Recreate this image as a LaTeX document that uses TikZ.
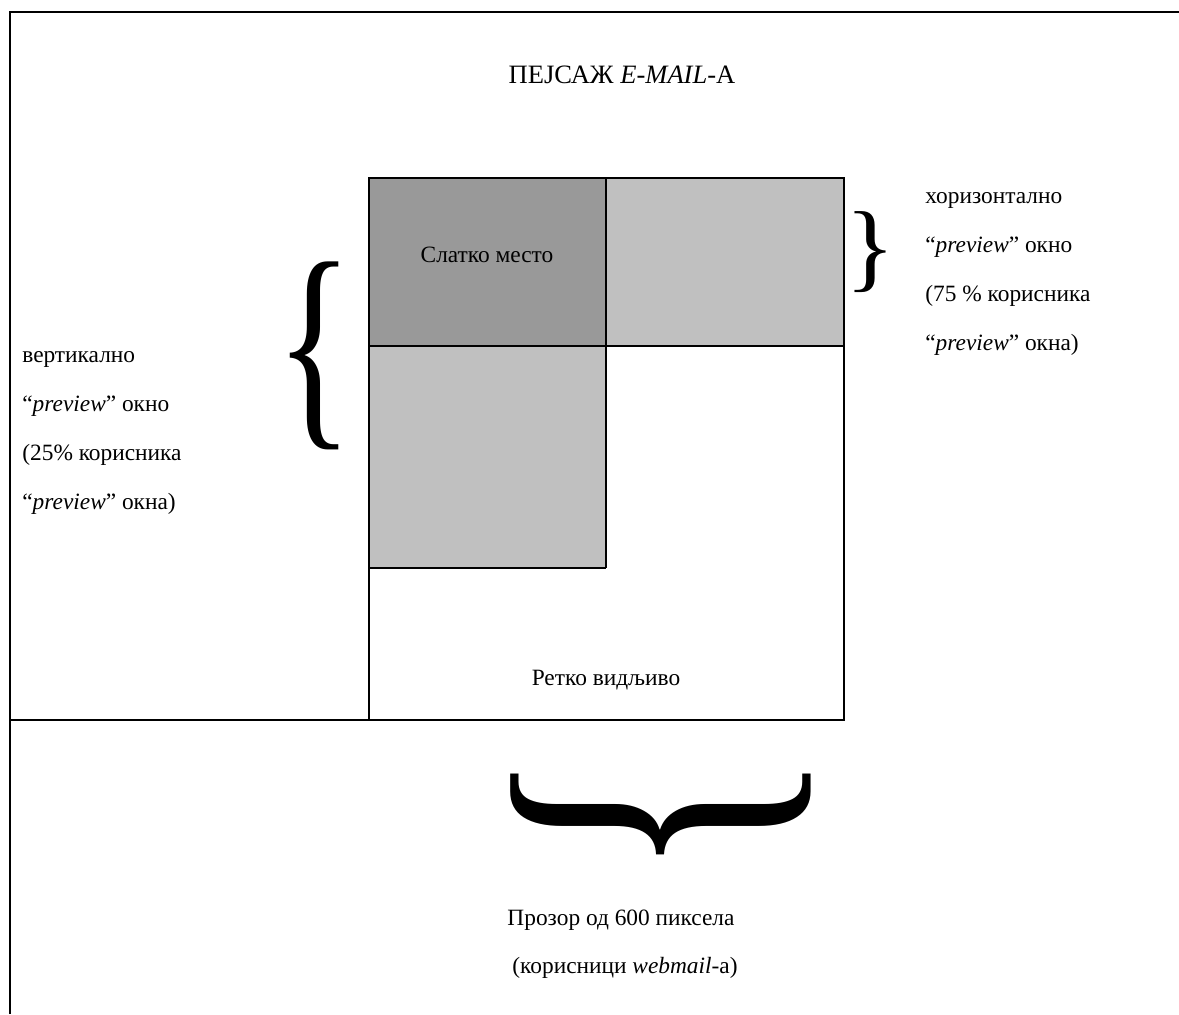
\documentclass[tikz,border=0pt]{standalone}
\usepackage{fontspec}
\setmainfont{Liberation Serif}
\usepackage{xcolor}
\usepackage{graphicx}
\usetikzlibrary{calc}
\definecolor{SweetGray}{HTML}{999999}
\definecolor{PaneGray}{HTML}{C0C0C0}
\newlength\pxu
\setlength\pxu{0.02cm}
\tikzset{
  frame/.style={draw=black, line width=1.2pt},
  zone/.style={draw=black, line width=1pt},
  label/.style={black, font=\fontsize{13.3}{16}\selectfont, inner sep=0pt},
  title/.style={black, font=\fontsize{15.1}{18}\selectfont, inner sep=0pt},
  brace/.style={black, inner sep=0pt}
}

\begin{document}
\begin{tikzpicture}[x=0.02cm, y=-0.02cm]
  \useasboundingbox (0,0) rectangle (1179,1014);
  % outer frame
  \coordinate (TL) at (10,12);
  \coordinate (TR) at (1179,12);
  \coordinate (BL) at (10,1014);
  \coordinate (ML) at (10,720);
  % e-mail landscape
  \coordinate (A) at (369,178);
  \coordinate (B) at (844,720);
  \coordinate (S) at (606,346);
  \coordinate (P) at (606,568);
  \fill[SweetGray] (A) rectangle (S);
  \fill[PaneGray] (S -| A) rectangle (P);
  \fill[PaneGray] (A -| S) rectangle (S -| B);
  \draw[zone] (A) rectangle (B);
  \draw[zone] (S -| A) -- (S -| B);
  \draw[zone] (A -| S) -- (P);
  \draw[zone] (P -| A) -- (P);
  \draw[frame] (BL) -- (TL) -- (TR);
  \draw[frame] (ML) -- (ML -| A);
  \node[title, anchor=base] (ttl) at (622,83) {ПЕЈСАЖ \textit{E-MAIL}-А};
  \node[label, anchor=base] (sweet) at (487,262) {Слатко место};
  \node[label, anchor=base] (rare) at (606,685) {Ретко видљиво};
  % left block
  \foreach \t [count=\i from 0] in {{вертикално}, {“\textit{preview}” окно},
      {(25\% корисника}, {“\textit{preview}” окна)}}
    \node[label, anchor=base west] (vert\i) at (22,362+49*\i) {\t};
  % right block
  \foreach \t [count=\i from 0] in {{хоризонтално}, {“\textit{preview}” окно},
      {(75 \% корисника}, {“\textit{preview}” окна)}}
    \node[label, anchor=base west] (horz\i) at (925,203+49*\i) {\t};
  \node[label, anchor=base] (gap) at (621,925) {Прозор од 600 пиксела};
  \node[label, anchor=base] (users) at (625,973) {(корисници \textit{webmail}-а)};
  % braces
  \node[brace] (lbrace) at (315,356) {\resizebox*{78\pxu}{188\pxu}{\{}};
  \node[brace] (rbrace) at (870,252) {\resizebox*{50\pxu}{81\pxu}{\}}};
  \node[brace, rotate=90] (bbrace) at (661,814) {\resizebox*{130\pxu}{300\pxu}{\{}};
\end{tikzpicture}
\end{document}
